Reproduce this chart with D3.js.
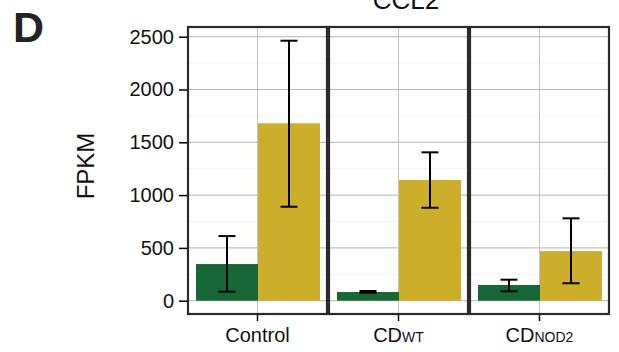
<!DOCTYPE html>
<html><head><meta charset="utf-8">
<script src="https://cdn.jsdelivr.net/npm/d3@7"></script>
<style>body{margin:0;background:#fff}svg{display:block}text{font-family:"Liberation Sans",Arial,Helvetica,sans-serif}</style>
</head><body>
<script>
const panels = ["Control", "CD_WT", "CD_NOD2"];
const panelMain = ["Control", "CD", "CD"];
const panelSub = ["", "WT", "NOD2"];
const series = ["A", "B"];
const colors = ["#176636", "#cdae2b"];
const means = [[347, 1680], [82, 1143], [149, 470]];
const lower = [[85, 890], [75, 880], [89, 165]];
const upper = [[612, 2462], [92, 1405], [199, 780]];
const yTicks = [0, 500, 1000, 1500, 2000, 2500];
const yMinor = [250, 750, 1250, 1750, 2250];

const W = 619, H = 352;
const svg = d3.select("body").append("svg").attr("width", W).attr("height", H);

const px = d3.scaleBand().domain(panels).range([188, 609]).paddingInner(0.0142);
const y = d3.scaleLinear().domain([-126, 2592]).range([314, 27]);
const pw = px.bandwidth();
const sx = d3.scaleBand().domain(series).range([8, pw - 7]);

panels.forEach((p, i) => {
  const g = svg.append("g").attr("transform", `translate(${px(p)},0)`);
  g.selectAll(".minor").data(yMinor).join("line")
    .attr("x1", 0).attr("x2", pw).attr("y1", d => y(d)).attr("y2", d => y(d))
    .attr("stroke", "#f3f3f3").attr("stroke-width", 1);
  g.selectAll(".major").data(yTicks).join("line")
    .attr("x1", 0).attr("x2", pw).attr("y1", d => y(d)).attr("y2", d => y(d))
    .attr("stroke", "#b5b5b5").attr("stroke-width", 1);
  g.append("line").attr("x1", pw / 2).attr("x2", pw / 2).attr("y1", 27).attr("y2", 314)
    .attr("stroke", "#c4c4c4").attr("stroke-width", 1);
  g.selectAll(".bar").data(series).join("rect")
    .attr("x", s => sx(s)).attr("width", sx.bandwidth())
    .attr("y", (s, j) => y(means[i][j])).attr("height", (s, j) => y(0) - y(means[i][j]))
    .attr("fill", (s, j) => colors[j]);
  series.forEach((s, j) => {
    const cx = sx(s) + sx.bandwidth() / 2;
    const eg = g.append("g").attr("stroke", "#000").attr("stroke-width", 2);
    eg.append("line").attr("x1", cx).attr("x2", cx).attr("y1", y(lower[i][j])).attr("y2", y(upper[i][j]));
    eg.append("line").attr("x1", cx - 8.5).attr("x2", cx + 8.5).attr("y1", y(lower[i][j])).attr("y2", y(lower[i][j]));
    eg.append("line").attr("x1", cx - 8.5).attr("x2", cx + 8.5).attr("y1", y(upper[i][j])).attr("y2", y(upper[i][j]));
  });
  g.append("rect").attr("x", 0).attr("y", 27).attr("width", pw).attr("height", 287)
    .attr("fill", "none").attr("stroke", "#2b2b2b").attr("stroke-width", 2.2);
  g.append("line").attr("x1", pw / 2).attr("x2", pw / 2).attr("y1", 315).attr("y2", 321)
    .attr("stroke", "#000").attr("stroke-width", 1.5);
  const t = g.append("text").attr("x", pw / 2).attr("y", 342).attr("text-anchor", "middle")
    .attr("font-size", 20).attr("fill", "#111");
  t.append("tspan").text(panelMain[i]);
  if (panelSub[i]) t.append("tspan").attr("font-size", 14).text(panelSub[i]);
});

// y axis
const ax = svg.append("g").attr("transform", "translate(187,0)")
  .call(d3.axisLeft(y).tickValues(yTicks).tickFormat(d3.format("d")).tickSize(8).tickPadding(5));
ax.select(".domain").remove();
ax.selectAll(".tick line").attr("stroke", "#000").attr("stroke-width", 1.5);
ax.selectAll(".tick text").attr("font-size", 20).attr("fill", "#111")
  .attr("font-family", "Liberation Sans, Arial, sans-serif");

svg.append("text").attr("transform", "translate(94,166) rotate(-90)")
  .attr("text-anchor", "middle").attr("font-size", 24).attr("fill", "#111").text("FPKM");
svg.append("text").attr("x", 406).attr("y", 9).attr("text-anchor", "middle")
  .attr("font-size", 26).attr("fill", "#111").text("CCL2");
svg.append("text").attr("x", 13).attr("y", 42).attr("font-size", 43).attr("font-weight", "bold")
  .attr("fill", "#222").text("D");
</script>
</body></html>
